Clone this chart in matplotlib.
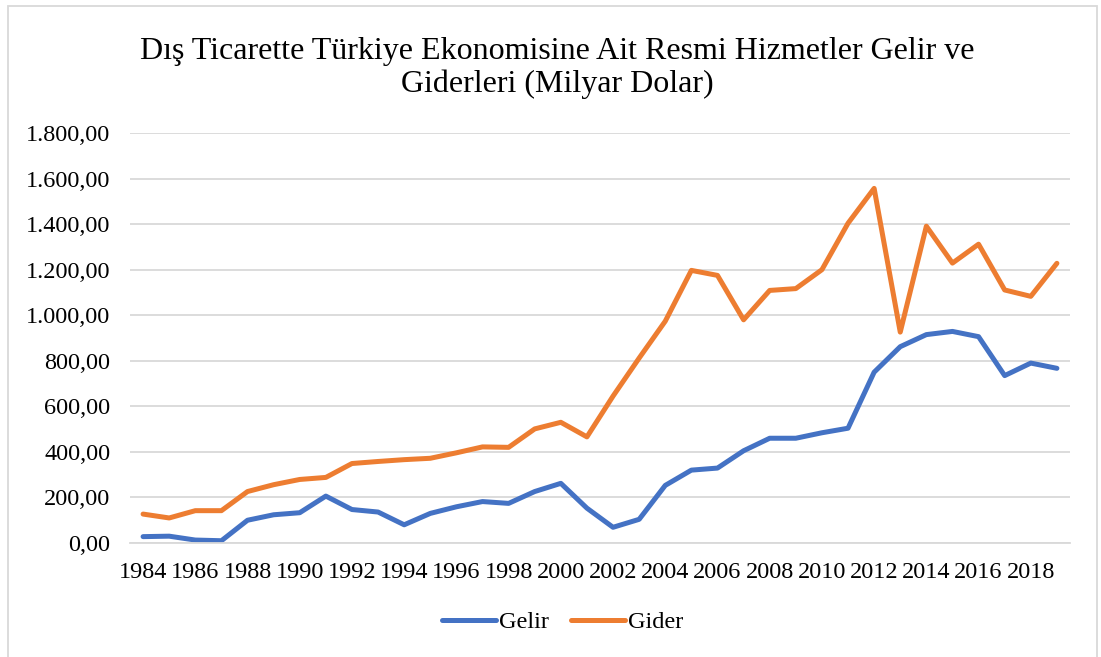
import numpy as np
import matplotlib
matplotlib.use("Agg")
from matplotlib import pyplot as plt
from matplotlib.ticker import FuncFormatter
from matplotlib.patches import Rectangle

years = list(range(1984, 2020))

gelir = [28, 30, 13, 10, 100, 124, 133, 206, 147, 136, 80, 130, 159, 182, 174, 226,
         262, 153, 69, 104, 253, 320, 329, 405, 460, 460, 484, 504, 750, 862, 915, 929,
         906, 735, 790, 767]

gider = [127, 110, 142, 142, 226, 256, 279, 288, 349, 358, 366, 372, 396, 422, 420, 501,
         530, 466, 645, 812, 974, 1197, 1175, 980, 1109, 1117, 1200, 1404, 1557, 926, 1391, 1229,
         1312, 1111, 1083, 1228]

title = "Dış Ticarette Türkiye Ekonomisine Ait Resmi Hizmetler Gelir ve\nGiderleri (Milyar Dolar)"


def tr_format(v, pos):
    s = "{:,.2f}".format(v)
    return s.replace(",", "X").replace(".", ",").replace("X", ".")


def main():
    plt.rcParams["font.family"] = ["Liberation Serif", "DejaVu Serif"]

    fig = plt.figure(figsize=(11.01, 6.57), dpi=100)
    ax = fig.add_axes([0.1181, 0.1735, 0.8537, 0.624])

    x = np.arange(len(years))
    ax.plot(x, gelir, color="#4472C4", linewidth=3.6, label="Gelir",
            solid_joinstyle="round", solid_capstyle="round")
    ax.plot(x, gider, color="#ED7D31", linewidth=3.6, label="Gider",
            solid_joinstyle="round", solid_capstyle="round")

    ax.set_xlim(-0.5, len(years) - 0.5)
    ax.set_ylim(0, 1800)
    ax.set_yticks(np.arange(0, 1801, 200))
    ax.yaxis.set_major_formatter(FuncFormatter(tr_format))
    ax.set_xticks(x[::2])
    ax.set_xticklabels([str(y) for y in years[::2]])

    ax.grid(axis="y", color="#D9D9D9", linewidth=1.3)
    ax.set_axisbelow(True)
    for side in ["top", "right", "left"]:
        ax.spines[side].set_visible(False)
    ax.spines["bottom"].set_color("#D9D9D9")
    ax.spines["bottom"].set_linewidth(1.3)
    ax.tick_params(axis="both", length=0, labelsize=17.5, colors="black")
    ax.tick_params(axis="y", pad=14)
    ax.tick_params(axis="x", pad=14)

    fig.text(0.506, 0.897, title, ha="center", va="center", fontsize=23,
             linespacing=1.15)

    fig.legend(loc="center", bbox_to_anchor=(0.511, 0.053), ncol=2, frameon=False,
               fontsize=17.5, handlelength=2.2, handletextpad=0.12, columnspacing=0.95)

    # light frame round the chart area
    fig.patches.append(Rectangle((8 / 1101, -0.01), 1089 / 1101, 1 - 6 / 657 + 0.01,
                                 transform=fig.transFigure, fill=False,
                                 edgecolor="#D9D9D9", linewidth=1.3))

    fig.savefig("out.png", dpi=100)


if __name__ == '__main__':
    main()
